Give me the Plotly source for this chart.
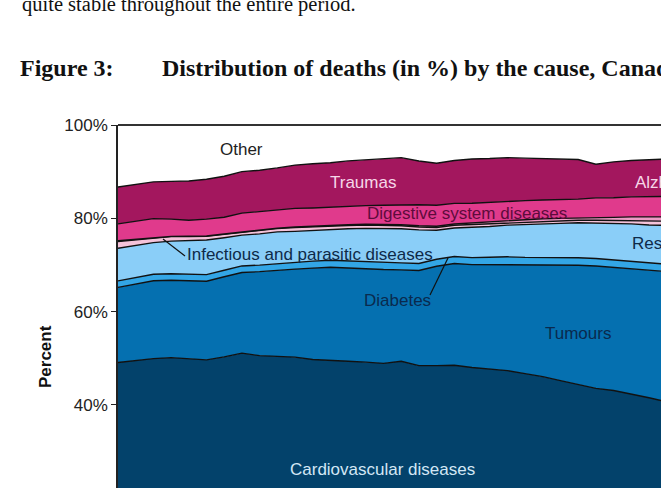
import plotly.graph_objects as go

years = list(range(1974, 2006))

cvd = [49.1, 49.6, 50.0, 50.2, 49.8, 49.5, 50.4, 51.1, 50.6, 50.4, 50.3, 49.8, 49.6, 49.4, 49.2, 48.9,
       49.4, 48.4, 48.4, 48.5, 48.1, 47.8, 47.4, 46.7, 46.1, 45.2, 44.4, 43.5, 43.1, 42.4, 41.6, 40.7]
tumours = [16.1, 16.3, 16.7, 16.6, 16.8, 16.8, 17.2, 17.3, 18.0, 18.5, 18.9, 19.6, 19.9, 20.0, 20.0, 20.1,
           19.6, 20.4, 21.3, 21.8, 22.1, 22.3, 22.8, 23.3, 24.0, 24.7, 25.6, 26.2, 26.4, 26.8, 27.3, 27.9]
diabetes = [1.4, 1.4, 1.4, 1.4, 1.4, 1.4, 1.4, 1.4, 1.4, 1.4, 1.4, 1.5, 1.5, 1.5, 1.5, 1.5,
            1.5, 1.5, 1.5, 1.5, 1.5, 1.6, 1.6, 1.6, 1.6, 1.6, 1.6, 1.6, 1.6, 1.6, 1.6, 1.6]
respiratory = [7.0, 6.9, 6.8, 7.0, 7.2, 7.4, 7.0, 6.6, 6.7, 6.8, 6.7, 6.6, 6.6, 6.9, 7.2, 7.3,
               7.3, 7.2, 6.2, 6.1, 6.5, 6.6, 6.8, 7.1, 7.2, 7.4, 7.5, 7.6, 7.7, 8.0, 8.2, 8.3]
infectious = [1.45, 1.3, 1.05, 0.95, 0.8, 0.8, 0.75, 0.65, 0.7, 0.72, 0.8, 0.78, 0.72, 0.7, 0.68, 0.66,
              0.64, 0.62, 0.6, 0.58, 0.6, 0.58, 0.56, 0.54, 0.56, 0.55, 0.54, 0.6, 0.72, 0.75, 0.8, 0.9]
alzheimer = [0.16, 0.1, 0.09, 0.06, 0.06, 0.06, 0.05, 0.06, 0.05, 0.08, 0.12, 0.12, 0.14, 0.16, 0.18, 0.2,
             0.22, 0.24, 0.26, 0.28, 0.37, 0.39, 0.41, 0.43, 0.51, 0.52, 0.53, 0.58, 0.68, 0.75, 0.85, 0.93]
digestive = [3.6, 3.8, 4.0, 3.7, 3.4, 3.6, 3.6, 4.0, 4.0, 3.9, 4.0, 3.9, 3.9, 4.0, 4.0, 4.1,
             4.3, 4.5, 4.5, 4.4, 4.2, 4.2, 4.2, 4.1, 4.0, 4.0, 4.0, 4.2, 4.2, 4.3, 4.4, 4.4]
traumas = [7.9, 8.0, 7.9, 8.1, 8.4, 8.5, 8.8, 8.9, 8.9, 9.0, 9.3, 9.5, 9.5, 9.7, 9.8, 9.9,
           10.1, 9.4, 9.0, 9.2, 9.5, 9.4, 9.3, 9.1, 8.9, 8.7, 8.5, 7.2, 7.7, 7.8, 8.0, 8.0]
other = [13.3, 12.7, 12.2, 12.1, 12.0, 11.6, 11.0, 10.0, 9.7, 9.2, 8.6, 8.3, 8.1, 7.7, 7.5, 7.3,
         7.0, 7.7, 8.2, 7.6, 7.3, 7.2, 7.0, 7.1, 7.2, 7.3, 7.4, 8.4, 7.9, 7.6, 7.4, 7.3]

series = [
    ("Cardiovascular diseases", cvd, "#03426B"),
    ("Tumours", tumours, "#0570B0"),
    ("Diabetes", diabetes, "#33A6E6"),
    ("Respiratory diseases", respiratory, "#8ACEF8"),
    ("Infectious and parasitic diseases", infectious, "#F5C3DA"),
    ("Alzheimer", alzheimer, "#EE9CC6"),
    ("Digestive system diseases", digestive, "#E03A8C"),
    ("Traumas", traumas, "#A3175E"),
    ("Other", other, "#FFFFFF"),
]

tick_vals = [40, 60, 80, 100]
tick_text = ["40%", "60%", "80%", "100%"]

W, H = 661, 488
L, T = 118, 125


def px(x):
    return (x - L) / (W - L)


def py(y):
    return (H - y) / (H - T)


fig = go.Figure()
for name, vals, col in series:
    fig.add_trace(go.Scatter(
        x=years, y=vals, name=name, mode="lines",
        stackgroup="all", groupnorm="percent",
        line=dict(color="#111111", width=1.4),
        fillcolor=col, hoverinfo="skip",
    ))

sans = "Liberation Sans, Arial, sans-serif"
serif = "Liberation Serif, Times New Roman, serif"

ann = []


def label(text, x, y, color, anchor="center", size=17):
    ann.append(dict(text=text, x=px(x), y=py(y), xref="paper", yref="paper",
                    xanchor=anchor, yanchor="middle", showarrow=False,
                    font=dict(family=sans, size=size, color=color)))


label("Other", 241, 149, "#222222")
label("Traumas", 363, 182, "#F6D6E8")
label("Alzheimer", 633, 182, "#F6D6E8", anchor="left")
label("Digestive system diseases", 467, 213, "#5E0B3C")
label("Infectious and parasitic diseases", 310, 254, "#0E2A48")
label("Respiratory diseases", 630, 243, "#0E2A48", anchor="left")
label("Diabetes", 397, 300, "#0A2A4E")
label("Tumours", 578, 333, "#0A2A4E")
label("Cardiovascular diseases", 382, 469, "#D3E7F5")

ann.append(dict(text="<b>Percent</b>", x=px(45), y=py(357), xref="paper", yref="paper",
                xanchor="center", yanchor="middle", showarrow=False, textangle=-90,
                font=dict(family=sans, size=17, color="#111111")))

ann.append(dict(text="quite stable throughout the entire period.", x=px(20), y=py(4),
                xref="paper", yref="paper", xanchor="left", yanchor="middle", showarrow=False,
                font=dict(family=serif, size=20.5, color="#111111")))
ann.append(dict(text="<b>Figure 3:</b>", x=px(18), y=py(68),
                xref="paper", yref="paper", xanchor="left", yanchor="middle", showarrow=False,
                font=dict(family=serif, size=24, color="#111111")))
ann.append(dict(text="<b>Distribution of deaths (in %) by the cause, Canada, 1974-2005</b>", x=px(160), y=py(68),
                xref="paper", yref="paper", xanchor="left", yanchor="middle", showarrow=False,
                font=dict(family=serif, size=24, color="#111111")))

shapes = [
    dict(type="line", xref="paper", yref="paper", x0=0, x1=1, y0=1, y1=1,
         line=dict(color="#333333", width=2)),
    dict(type="line", xref="paper", yref="paper", x0=px(163), y0=py(239), x1=px(185), y1=py(256),
         line=dict(color="#111111", width=1.2)),
    dict(type="line", xref="paper", yref="paper", x0=px(448), y0=py(258), x1=px(430), y1=py(295),
         line=dict(color="#111111", width=1.2)),
]

fig.update_layout(
    width=W, height=H,
    margin=dict(l=L, r=0, t=T, b=0, pad=0),
    paper_bgcolor="white", plot_bgcolor="white",
    showlegend=False,
    annotations=ann, shapes=shapes,
    xaxis=dict(range=[years[0], years[0] + (W - L) / 17.7], visible=False),
    yaxis=dict(range=[22.2, 100], tickvals=tick_vals, ticktext=tick_text,
               ticks="outside", ticklen=5, tickwidth=1.2, tickcolor="#222222",
               showline=True, linecolor="#222222", linewidth=1.5,
               showgrid=False, zeroline=False,
               tickfont=dict(family=sans, size=17, color="#222222")),
)

fig.write_html("out.html")
